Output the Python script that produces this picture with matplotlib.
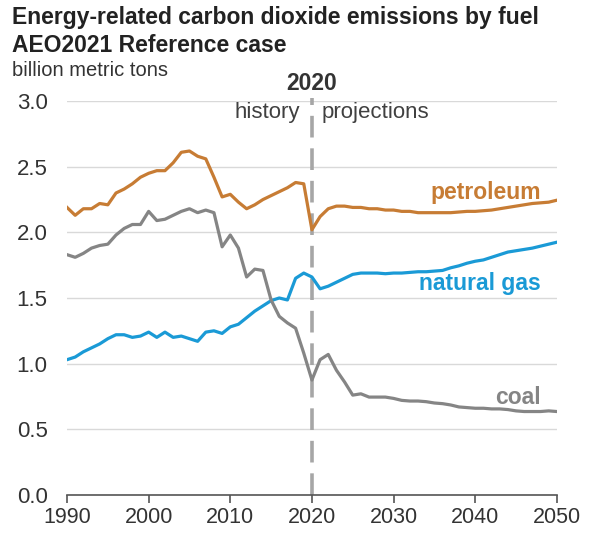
import matplotlib
matplotlib.use("Agg")
from matplotlib import pyplot as plt

plt.rcParams['font.family'] = ['Liberation Sans', 'DejaVu Sans']

# data (billion metric tons)
years = list(range(1990, 2051))

petroleum = [2.19, 2.13, 2.18, 2.18, 2.22, 2.21, 2.30, 2.33, 2.37, 2.42,
             2.45, 2.47, 2.47, 2.53, 2.61, 2.62, 2.58, 2.56, 2.42, 2.27,
             2.29, 2.23, 2.18, 2.21, 2.25, 2.28, 2.31, 2.34, 2.38, 2.37,
             2.02, 2.12, 2.18, 2.20, 2.20, 2.19, 2.19, 2.18, 2.18, 2.17,
             2.17, 2.16, 2.16, 2.15, 2.15, 2.15, 2.15, 2.15, 2.155, 2.16,
             2.16, 2.165, 2.17, 2.18, 2.19, 2.20, 2.21, 2.22, 2.225, 2.23,
             2.245]

natural_gas = [1.03, 1.05, 1.09, 1.12, 1.15, 1.19, 1.22, 1.22, 1.20, 1.21,
               1.24, 1.20, 1.24, 1.20, 1.21, 1.19, 1.17, 1.24, 1.25, 1.23,
               1.28, 1.30, 1.35, 1.40, 1.44, 1.48, 1.50, 1.485, 1.65, 1.69,
               1.66, 1.57, 1.59, 1.62, 1.65, 1.68, 1.69, 1.69, 1.69, 1.685,
               1.69, 1.69, 1.695, 1.70, 1.70, 1.705, 1.71, 1.73, 1.745, 1.765,
               1.78, 1.79, 1.81, 1.83, 1.85, 1.86, 1.87, 1.88, 1.895, 1.91,
               1.925]

coal = [1.83, 1.81, 1.84, 1.88, 1.90, 1.91, 1.98, 2.03, 2.06, 2.06,
        2.16, 2.09, 2.10, 2.13, 2.16, 2.18, 2.15, 2.17, 2.15, 1.89,
        1.98, 1.88, 1.66, 1.72, 1.71, 1.485, 1.36, 1.31, 1.27, 1.08,
        0.875, 1.03, 1.07, 0.95, 0.86, 0.76, 0.77, 0.745, 0.745, 0.745,
        0.735, 0.72, 0.715, 0.715, 0.71, 0.70, 0.695, 0.685, 0.67, 0.665,
        0.66, 0.66, 0.655, 0.655, 0.65, 0.64, 0.635, 0.635, 0.635, 0.64,
        0.635]

x_ticks = [1990, 2000, 2010, 2020, 2030, 2040, 2050]
y_ticks = [0.0, 0.5, 1.0, 1.5, 2.0, 2.5, 3.0]

c_pet = '#c77c34'
c_gas = '#1a9ad6'
c_coal = '#858585'
c_text = '#333333'

fig = plt.figure(figsize=(5.93, 5.35), dpi=100)
ax = fig.add_axes([0.113, 0.075, 0.826, 0.736])

ax.plot(years, petroleum, color=c_pet, lw=2.3, solid_joinstyle='round', zorder=3)
ax.plot(years, natural_gas, color=c_gas, lw=2.3, solid_joinstyle='round', zorder=3)
ax.plot(years, coal, color=c_coal, lw=2.3, solid_joinstyle='round', zorder=3)

ax.set_xlim(1990, 2050)
ax.set_ylim(0, 3.0)
ax.set_xticks(x_ticks)
ax.set_yticks(y_ticks)
ax.set_yticklabels(['%.1f' % v for v in y_ticks])
ax.grid(axis='y', color='#d9d9d9', lw=1, zorder=0)
ax.set_axisbelow(True)

for s in ['left', 'right', 'top']:
    ax.spines[s].set_visible(False)
ax.spines['bottom'].set_color('#555555')
ax.spines['bottom'].set_linewidth(1.2)
ax.tick_params(axis='x', direction='out', length=6, width=1.2, color='#555555',
               labelsize=15.5, labelcolor=c_text, pad=3)
ax.tick_params(axis='y', length=0, labelsize=16, labelcolor=c_text, pad=14)

# history / projections divider
ax.plot([2020, 2020], [0, 3.02], color='#a6a6a6', lw=2.6, ls=(0, (6, 3)),
        clip_on=False, zorder=2)
ax.text(2020, 3.045, '2020', ha='center', va='bottom', fontsize=16.5,
        fontweight='bold', color=c_text)
ax.text(2018.5, 2.91, 'history', ha='right', va='center', fontsize=16, color='#404040')
ax.text(2021.2, 2.91, 'projections', ha='left', va='center', fontsize=16, color='#404040')

# series labels
ax.text(2048, 2.254, 'petroleum', ha='right', va='baseline', fontsize=16.5,
        fontweight='bold', color=c_pet)
ax.text(2048, 1.56, 'natural gas', ha='right', va='baseline', fontsize=16.5,
        fontweight='bold', color=c_gas)
ax.text(2048, 0.693, 'coal', ha='right', va='baseline', fontsize=16.5,
        fontweight='bold', color=c_coal)

fig.text(0.020, 0.955, 'Energy-related carbon dioxide emissions by fuel',
         ha='left', va='baseline', fontsize=16.5, fontweight='bold', color='#222222')
fig.text(0.020, 0.903, 'AEO2021 Reference case',
         ha='left', va='baseline', fontsize=16.5, fontweight='bold', color='#222222')
fig.text(0.020, 0.858, 'billion metric tons',
         ha='left', va='baseline', fontsize=14.5, color='#333333')

fig.savefig('out.png', dpi=100)
